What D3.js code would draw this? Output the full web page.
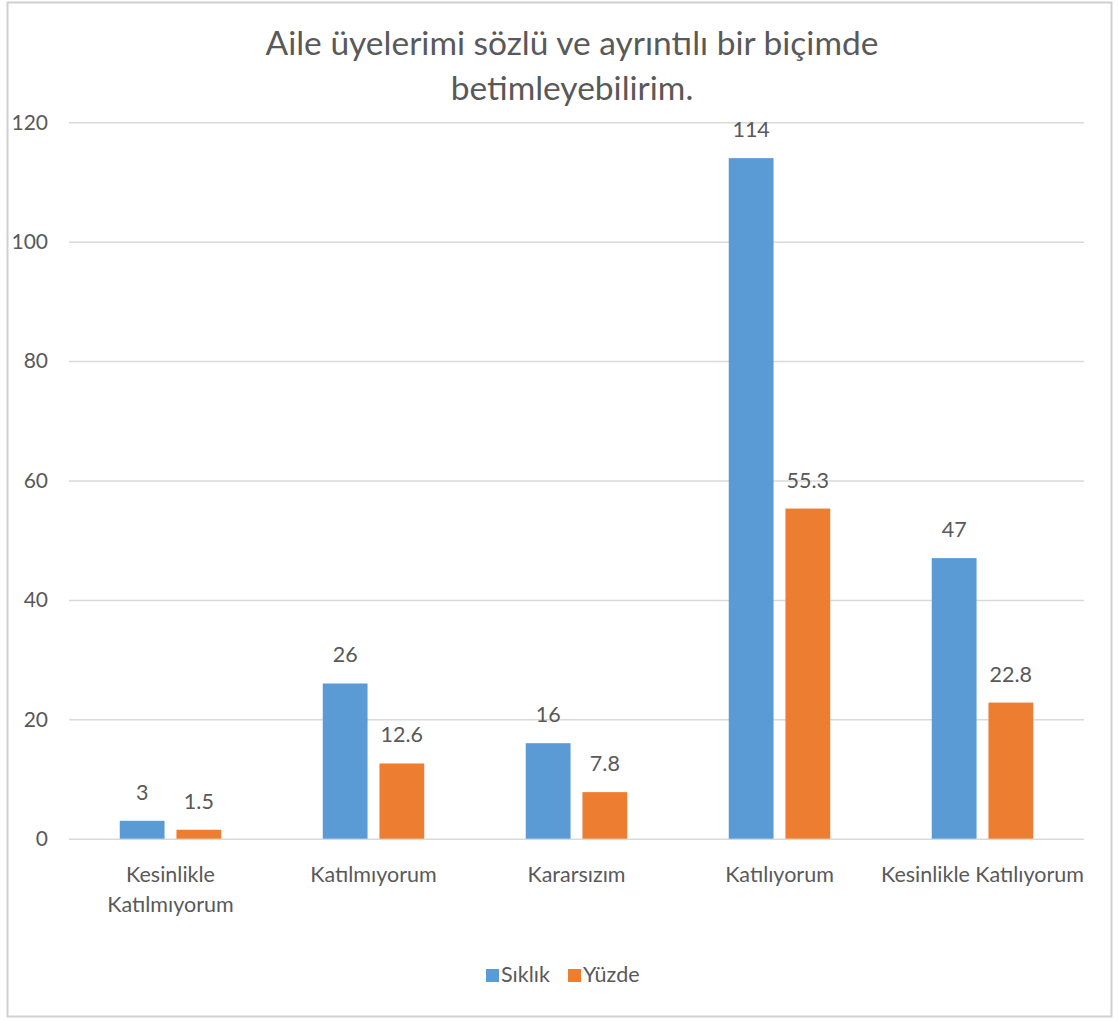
<!DOCTYPE html>
<html><head><meta charset="utf-8">
<script src="https://cdn.jsdelivr.net/npm/d3@7"></script>
<style>body{margin:0;background:#fff;} text{font-family:Lato, "Open Sans", sans-serif;}</style>
</head><body>
<svg id="c" width="1119" height="1021"></svg>
<script>
const titleLines = ["Aile üyelerimi sözlü ve ayrıntılı bir biçimde", "betimleyebilirim."];
const categories = [["Kesinlikle", "Katılmıyorum"], ["Katılmıyorum"], ["Kararsızım"], ["Katılıyorum"], ["Kesinlikle Katılıyorum"]];
const seriesNames = ["Sıklık", "Yüzde"];
const siklik = [3, 26, 16, 114, 47];
const yuzde = [1.5, 12.6, 7.8, 55.3, 22.8];
const yuzdeLabels = ["1.5", "12.6", "7.8", "55.3", "22.8"];
const siklikLabels = ["3", "26", "16", "114", "47"];
const yTicks = [0, 20, 40, 60, 80, 100, 120];
const colors = ["#5B9BD5", "#ED7D31"];

(function () {
const svg = d3.select("#c");
const pLeft = 69, pRight = 1084, pTop = 122.3, pBottom = 838.7;
const textColor = "#595959";

svg.append("rect").attr("x", 7.5).attr("y", 2.5).attr("width", 1104).attr("height", 1014)
  .attr("fill", "#fff").attr("stroke", "#d0d0d0").attr("stroke-width", 2);

// title
svg.append("g").selectAll("text").data(titleLines).join("text")
  .attr("x", 572).attr("y", (d, i) => 55 + i * 45)
  .attr("text-anchor", "middle").attr("fill", textColor)
  .attr("font-size", 33.5).text(d => d);

const y = d3.scaleLinear().domain([0, 120]).range([pBottom, pTop]);
const idx = d3.range(categories.length);
const x0 = d3.scaleBand().domain(idx).range([pLeft, pRight]).paddingInner(0.5).paddingOuter(0.25);
const x1 = d3.scaleBand().domain([0, 1]).range([0, x0.bandwidth()]).paddingInner(0.21);

// gridlines
const yAxis = d3.axisLeft(y).tickValues(yTicks).tickSize(-(pRight - pLeft)).tickPadding(21);
const ga = svg.append("g").attr("transform", `translate(${pLeft},0)`).call(yAxis);
ga.select(".domain").remove();
ga.selectAll(".tick line").attr("stroke", "#d9d9d9").attr("stroke-width", 1.5);
ga.selectAll(".tick text").attr("fill", textColor).attr("font-size", 21).attr("font-family", "Lato");

const series = [siklik, yuzde];
const labels = [siklikLabels, yuzdeLabels];
series.forEach((vals, s) => {
  const g = svg.append("g");
  g.selectAll("rect").data(idx).join("rect")
    .attr("x", i => x0(i) + x1(s)).attr("width", x1.bandwidth())
    .attr("y", i => y(vals[i])).attr("height", i => y(0) - y(vals[i]))
    .attr("fill", colors[s]);
  g.selectAll("text").data(idx).join("text")
    .attr("x", i => x0(i) + x1(s) + x1.bandwidth() / 2)
    .attr("y", i => y(vals[i]) - 21)
    .attr("text-anchor", "middle").attr("fill", textColor).attr("font-size", 21.5)
    .text(i => labels[s][i]);
});

// category labels
const cg = svg.append("g");
idx.forEach(i => {
  categories[i].forEach((line, j) => {
    cg.append("text").attr("x", x0(i) + x0.bandwidth() / 2).attr("y", 882 + j * 30)
      .attr("text-anchor", "middle").attr("fill", textColor).attr("font-size", 21.5).text(line);
  });
});

// legend
const legX = [486, 568];
const lg = svg.append("g");
seriesNames.forEach((n, s) => {
  lg.append("rect").attr("x", legX[s]).attr("y", 969).attr("width", 13).attr("height", 13).attr("fill", colors[s]);
  lg.append("text").attr("x", legX[s] + 15).attr("y", 982).attr("fill", textColor).attr("font-size", 21.5).text(n);
});
})();
</script>
</body></html>
